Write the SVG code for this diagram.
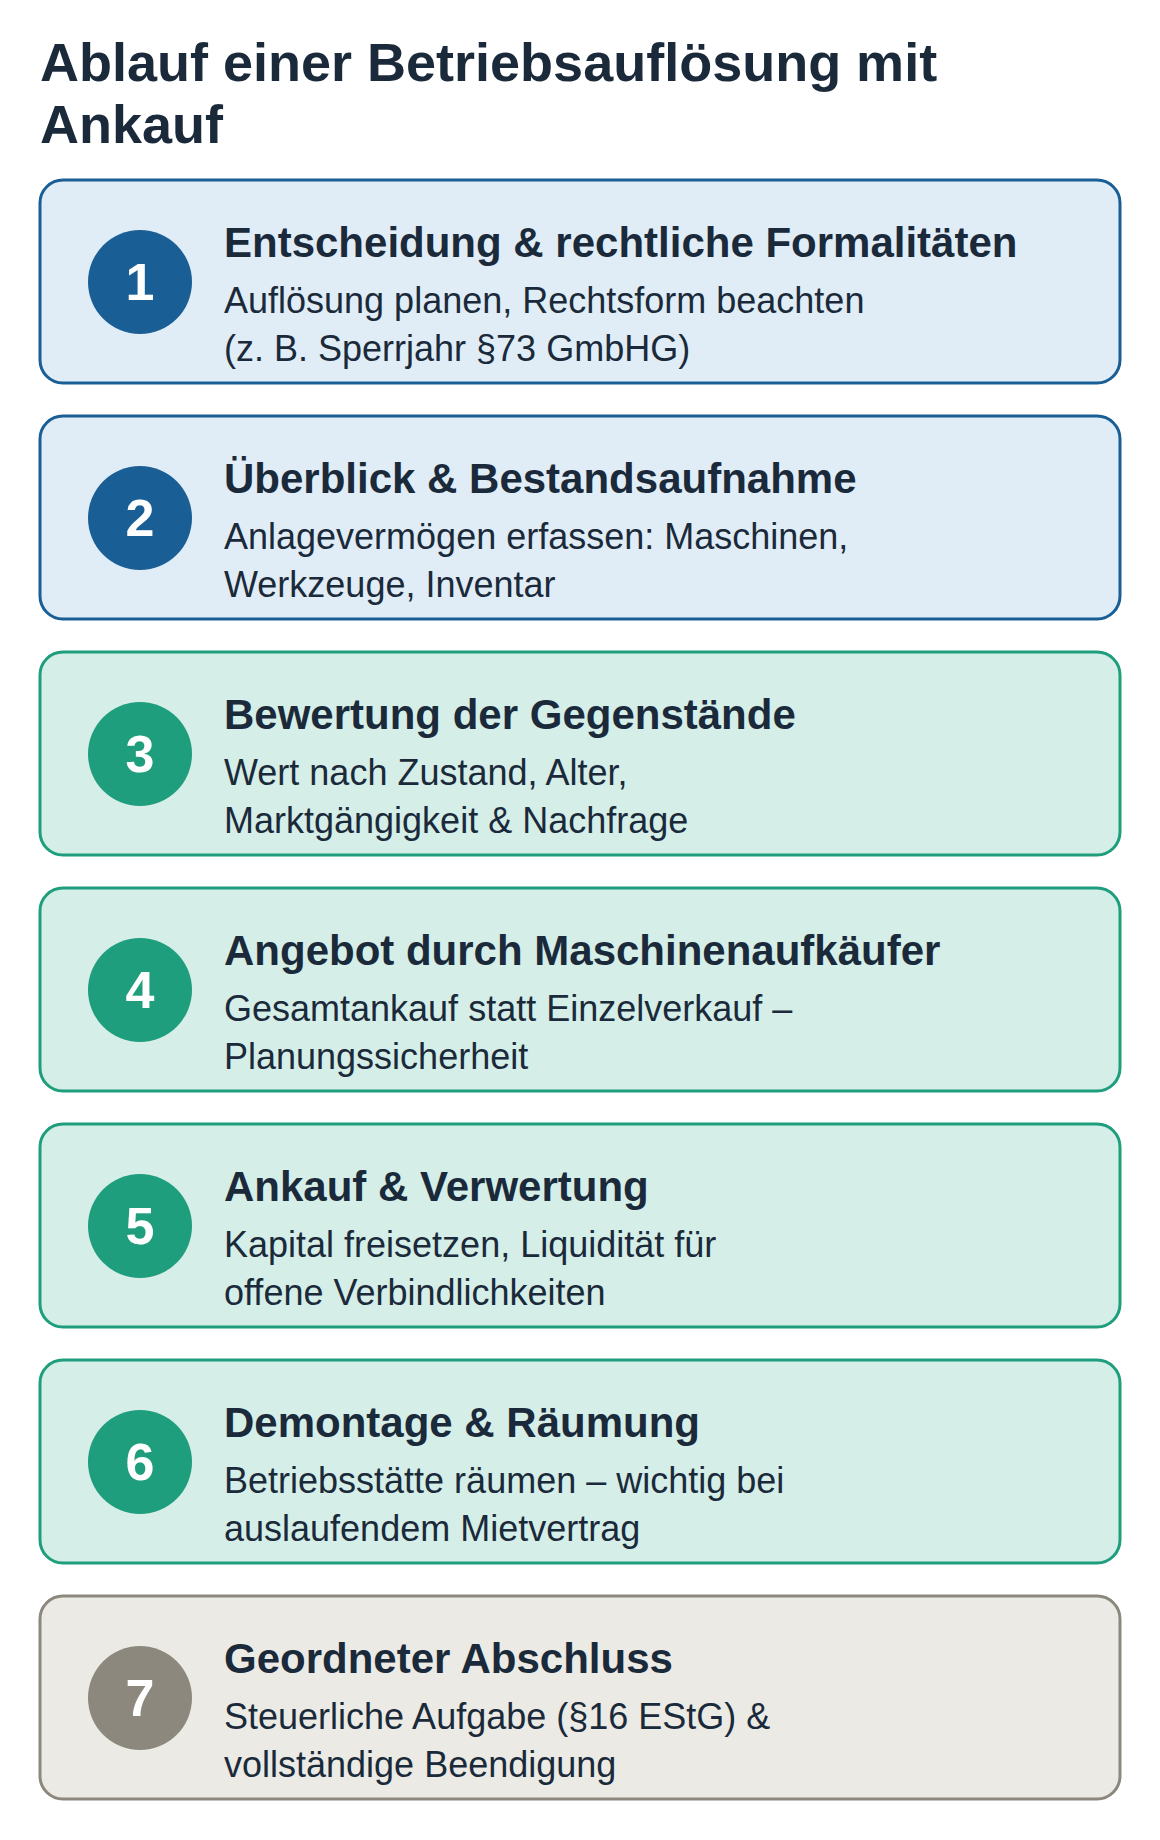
<svg xmlns="http://www.w3.org/2000/svg" width="1160" height="1840" viewBox="0 0 1160 1840">
<style>
.h{font-family:"Liberation Sans",Arial,sans-serif;font-weight:bold;font-size:54px;fill:#1b2a3a}
.box{stroke-width:3}
.b1{fill:#e0edf6;stroke:#1a5e96}
.b2{fill:#d5eee8;stroke:#1e9e7c}
.b3{fill:#ebeae5;stroke:#8c887d}
.c1{fill:#1a5e96}
.c2{fill:#1e9e7c}
.c3{fill:#8c887d}
.num{font-family:"Liberation Sans",Arial,sans-serif;font-weight:bold;font-size:52px;fill:#ffffff;text-anchor:middle}
.t{font-family:"Liberation Sans",Arial,sans-serif;font-weight:bold;font-size:42px;fill:#1b2a3a}
.d{font-family:"Liberation Sans",Arial,sans-serif;font-size:36px;fill:#1b2a3a}
</style>
<rect width="1160" height="1840" fill="#ffffff"/>
<g id="heading">
<text class="h" x="40" y="81">Ablauf einer Betriebsauflösung mit</text>
<text class="h" x="40" y="143">Ankauf</text>
</g>
<g id="connectors"></g>
<g id="step1">
<rect class="box b1" x="40" y="180" width="1080" height="203" rx="23"/>
<circle class="c1" cx="140" cy="282" r="52"/>
<text class="num" x="140" y="300">1</text>
<text class="t" x="224" y="256.5">Entscheidung &amp; rechtliche Formalitäten</text>
<text class="d" x="224" y="312.5">Auflösung planen, Rechtsform beachten</text>
<text class="d" x="224" y="360.5">(z. B. Sperrjahr §73 GmbHG)</text>
</g>
<g id="step2">
<rect class="box b1" x="40" y="416" width="1080" height="203" rx="23"/>
<circle class="c1" cx="140" cy="518" r="52"/>
<text class="num" x="140" y="536">2</text>
<text class="t" x="224" y="492.5">Überblick &amp; Bestandsaufnahme</text>
<text class="d" x="224" y="548.5">Anlagevermögen erfassen: Maschinen,</text>
<text class="d" x="224" y="596.5">Werkzeuge, Inventar</text>
</g>
<g id="step3">
<rect class="box b2" x="40" y="652" width="1080" height="203" rx="23"/>
<circle class="c2" cx="140" cy="754" r="52"/>
<text class="num" x="140" y="772">3</text>
<text class="t" x="224" y="728.5">Bewertung der Gegenstände</text>
<text class="d" x="224" y="784.5">Wert nach Zustand, Alter,</text>
<text class="d" x="224" y="832.5">Marktgängigkeit &amp; Nachfrage</text>
</g>
<g id="step4">
<rect class="box b2" x="40" y="888" width="1080" height="203" rx="23"/>
<circle class="c2" cx="140" cy="990" r="52"/>
<text class="num" x="140" y="1008">4</text>
<text class="t" x="224" y="964.5">Angebot durch Maschinenaufkäufer</text>
<text class="d" x="224" y="1020.5">Gesamtankauf statt Einzelverkauf –</text>
<text class="d" x="224" y="1068.5">Planungssicherheit</text>
</g>
<g id="step5">
<rect class="box b2" x="40" y="1124" width="1080" height="203" rx="23"/>
<circle class="c2" cx="140" cy="1226" r="52"/>
<text class="num" x="140" y="1244">5</text>
<text class="t" x="224" y="1200.5">Ankauf &amp; Verwertung</text>
<text class="d" x="224" y="1256.5">Kapital freisetzen, Liquidität für</text>
<text class="d" x="224" y="1304.5">offene Verbindlichkeiten</text>
</g>
<g id="step6">
<rect class="box b2" x="40" y="1360" width="1080" height="203" rx="23"/>
<circle class="c2" cx="140" cy="1462" r="52"/>
<text class="num" x="140" y="1480">6</text>
<text class="t" x="224" y="1436.5">Demontage &amp; Räumung</text>
<text class="d" x="224" y="1492.5">Betriebsstätte räumen – wichtig bei</text>
<text class="d" x="224" y="1540.5">auslaufendem Mietvertrag</text>
</g>
<g id="step7">
<rect class="box b3" x="40" y="1596" width="1080" height="203" rx="23"/>
<circle class="c3" cx="140" cy="1698" r="52"/>
<text class="num" x="140" y="1716">7</text>
<text class="t" x="224" y="1672.5">Geordneter Abschluss</text>
<text class="d" x="224" y="1728.5">Steuerliche Aufgabe (§16 EStG) &amp;</text>
<text class="d" x="224" y="1776.5">vollständige Beendigung</text>
</g>
</svg>
